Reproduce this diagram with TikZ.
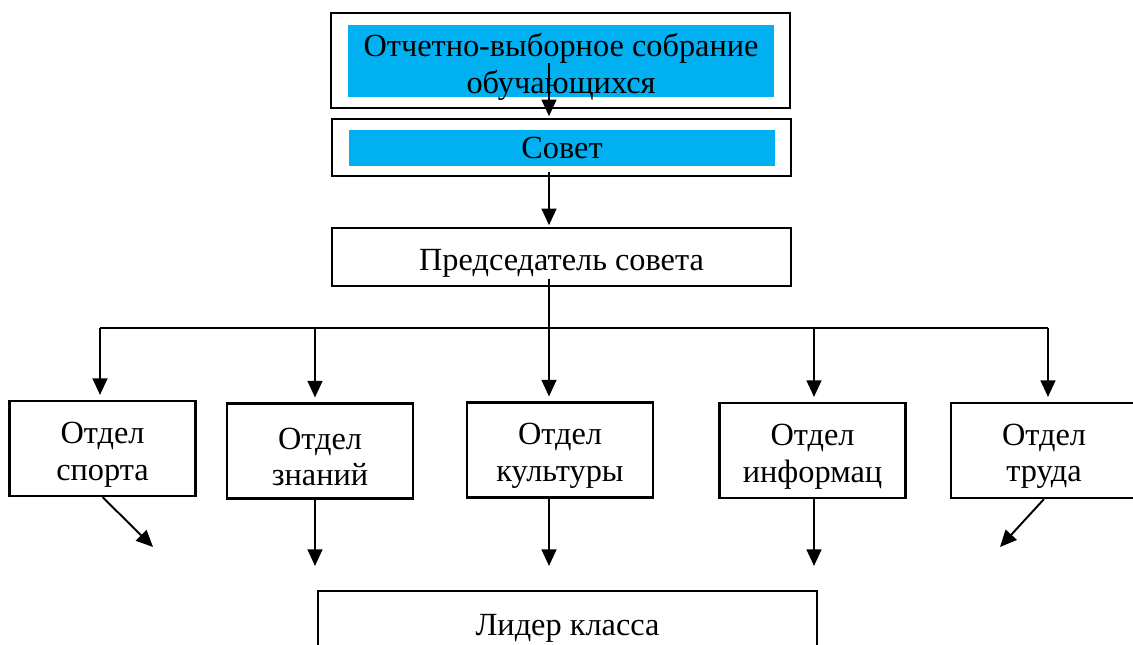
\documentclass[tikz,border=0pt]{standalone}
\usepackage{fontspec}
\setmainfont{Liberation Serif}
\usetikzlibrary{arrows.meta,positioning}
\definecolor{bandcyan}{HTML}{00B0F0}

\begin{document}
\begin{tikzpicture}[x=0.02cm,y=-0.02cm,
    font=\fontsize{18.4}{20.8}\selectfont,
    boxframe/.style={draw,rectangle,line width=1.2pt,inner sep=0pt},
    band/.style={rectangle,fill=bandcyan,inner sep=0pt},
    dept/.style={boxframe,minimum width=3.72cm,minimum height=1.9cm},
    txt/.style={align=center,inner sep=0pt},
    arr/.style={line width=1.1pt,-{Triangle[length=9.5pt,width=8.5pt]}},
    busline/.style={line width=0.75pt}]
            \clip (0,0) rectangle (1133,645);
            % upper part
            \node[boxframe, minimum width=9.18cm, minimum height=1.9cm] (sobranie) at (560.5,60.5) {};
            \node[band, minimum width=8.52cm, minimum height=1.44cm] (sobranie_band) at (561,61) {};
            \node[boxframe, minimum width=9.18cm, minimum height=1.14cm] (sovet) at (561.5,147.5) {};
            \node[band, minimum width=8.52cm, minimum height=0.72cm] (sovet_band) at (562,148) {};
            \node[boxframe, minimum width=9.18cm, minimum height=1.16cm] (pred) at (561.5,257) {};
            % departments
            \node[dept] (otd_1) at (102.5,448.5) {};
            \node[dept] (otd_2) at (320,451) {};
            \node[dept] (otd_3) at (560,450) {};
            \node[dept] (otd_4) at (812.5,450.5) {};
            \node[dept] (otd_5) at (1044,450.5) {};
            \node[boxframe, minimum width=9.98cm, minimum height=1.24cm] (lider) at (567.5,622) {};
            % texts
            \node[txt] (sobranie_txt) at ([yshift=-0.12cm]sobranie_band.center) {Отчетно-выборное собрание\\обучающихся};
            \node[txt] (sovet_txt) at (sovet_band.center) {Совет};
            \node[txt] (pred_txt) at ([yshift=-0.12cm]pred.center) {Председатель совета};
            \node[txt] (otd_1_txt) at ([yshift=-0.12cm]otd_1.center) {Отдел\\спорта};
            \node[txt] (otd_2_txt) at ([yshift=-0.12cm]otd_2.center) {Отдел\\знаний};
            \node[txt] (otd_3_txt) at ([yshift=-0.12cm]otd_3.center) {Отдел\\культуры};
            \node[txt] (otd_4_txt) at ([yshift=-0.12cm]otd_4.center) {Отдел\\информац};
            \node[txt] (otd_5_txt) at ([yshift=-0.12cm]otd_5.center) {Отдел\\труда};
            \node[txt] (lider_txt) at ([yshift=-0.12cm]lider.center) {Лидер класса};
            \coordinate (spine) at (549,0);
            \coordinate (bus) at (0,328);
            \coordinate (diag_l) at (153,547);
            \coordinate (diag_r) at (1000,547);
            \foreach \i/\x in {1/100,2/315,3/549,4/814,5/1048}
                \coordinate (drop_\i) at (\x,328);
            % connectors
            \draw[arr, shorten >=1pt] ([yshift=-0.04cm]spine |- sobranie_band.center) -- (spine |- sovet.north);
            \draw[arr, shorten >=1pt] ([yshift=0.1cm]spine |- sovet.south) -- (spine |- pred.north);
            \draw[busline] ([yshift=0.16cm]spine |- pred.south) -- (spine |- bus);
            \draw[busline] (drop_1) -- (drop_5);
            \foreach \i in {1,...,5}
                \draw[arr, shorten >=0.1cm] (drop_\i) -- (drop_\i |- otd_\i.north);
            \foreach \i in {2,3,4}
                \draw[arr, shorten >=0.48cm] (drop_\i |- otd_\i.south) -- (drop_\i |- lider.north);
            \draw[arr] (otd_1.south) -- (diag_l);
            \draw[arr] (otd_5.south) -- (diag_r);
\end{tikzpicture}
\end{document}
